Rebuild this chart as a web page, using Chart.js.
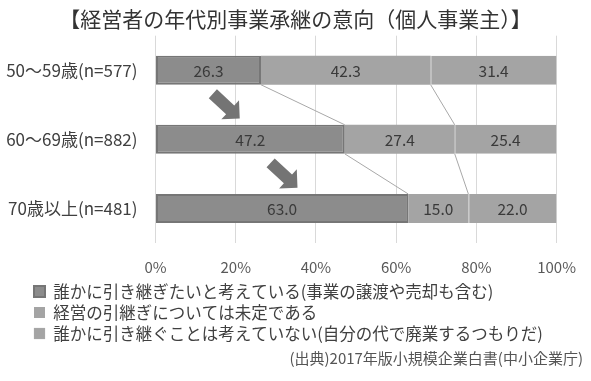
<!DOCTYPE html>
<html>
<head>
<meta charset="utf-8">
<script src="https://cdn.jsdelivr.net/npm/chart.js@4"></script>
<style>
html,body{margin:0;padding:0;background:#fff;}
#wrap{width:591px;height:381px;position:relative;}
</style>
</head>
<body>
<div id="wrap"><canvas id="c"></canvas></div>
<script>
const categories = ['50～59歳(n=577)', '60～69歳(n=882)', '70歳以上(n=481)'];
const seriesLabels = [
  '誰かに引き継ぎたいと考えている(事業の譲渡や売却も含む)',
  '経営の引継ぎについては未定である',
  '誰かに引き継ぐことは考えていない(自分の代で廃業するつもりだ)'
];
const successorValues = [26.3, 47.2, 63.0];
const undecidedValues = [42.3, 27.4, 15.0];
const closingValues = [31.4, 25.4, 22.0];
const xTickValues = [0, 20, 40, 60, 80, 100];
const titleText = '【経営者の年代別事業承継の意向（個人事業主）】';
const sourceText = '(出典)2017年版小規模企業白書(中小企業庁)';

const FONT = "'Noto Sans CJK JP', 'Noto Sans', sans-serif";

const overlay = {
  id: 'overlay',
  afterLayout(chart, args, opts) {
    if (chart.legend) {
      chart.legend.left = opts.legendLeft;
    }
    if (chart.titleBlock) {
      chart.titleBlock.left = 0;
      chart.titleBlock.right = chart.width;
    }
  },
  afterDatasetsDraw(chart, args, opts) {
    const ctx = chart.ctx;
    const xs = chart.scales.x, ys = chart.scales.y;
    ctx.save();
    // connector lines between segment boundaries
    ctx.strokeStyle = '#a8a8a8';
    ctx.lineWidth = 1;
    [0, 1].forEach(d => {
      const meta = chart.getDatasetMeta(d);
      for (let i = 0; i < meta.data.length - 1; i++) {
        const a = meta.data[i], b = meta.data[i + 1];
        ctx.beginPath();
        ctx.moveTo(a.x, a.y + a.height / 2);
        ctx.lineTo(b.x, b.y - b.height / 2);
        ctx.stroke();
      }
    });
    // value labels
    ctx.fillStyle = '#3a3a3a';
    ctx.font = '15.5px ' + FONT;
    ctx.textAlign = 'center';
    ctx.textBaseline = 'middle';
    chart.data.datasets.forEach((ds, d) => {
      chart.getDatasetMeta(d).data.forEach((el, i) => {
        const p = el.getCenterPoint();
        ctx.fillText(ds.data[i].toFixed(1), p.x, p.y + 1);
      });
    });
    // arrows
    ctx.fillStyle = opts.arrowColor;
    opts.arrows.forEach(a => {
      const x0 = xs.getPixelForValue(a.from[0]), y0 = ys.getPixelForValue(a.from[1]);
      const x1 = xs.getPixelForValue(a.to[0]), y1 = ys.getPixelForValue(a.to[1]);
      const dx = x1 - x0, dy = y1 - y0, len = Math.hypot(dx, dy);
      const ux = dx / len, uy = dy / len, px = -uy, py = ux;
      const hw = 6, hl = 13, hh = 13;
      const bx = x1 - ux * hl, by = y1 - uy * hl;
      ctx.beginPath();
      ctx.moveTo(x0 + px * hw, y0 + py * hw);
      ctx.lineTo(bx + px * hw, by + py * hw);
      ctx.lineTo(bx + px * hh, by + py * hh);
      ctx.lineTo(x1, y1);
      ctx.lineTo(bx - px * hh, by - py * hh);
      ctx.lineTo(bx - px * hw, by - py * hw);
      ctx.lineTo(x0 - px * hw, y0 - py * hw);
      ctx.closePath();
      ctx.fill();
    });
    ctx.restore();
  },
  afterDraw(chart, args, opts) {
    const ctx = chart.ctx;
    ctx.save();
    ctx.fillStyle = '#555';
    ctx.font = '15px ' + FONT;
    ctx.textAlign = 'right';
    ctx.textBaseline = 'middle';
    ctx.fillText(opts.source, opts.sourceX, opts.sourceY);
    ctx.restore();
  }
};

new Chart(document.getElementById('c'), {
  type: 'bar',
  data: {
    labels: categories,
    datasets: [
      { label: seriesLabels[0], data: successorValues, backgroundColor: '#8c8c8c', borderColor: '#767676', borderWidth: 2, borderSkipped: false },
      { label: seriesLabels[1], data: undecidedValues, backgroundColor: '#a4a4a4', borderColor: '#a4a4a4', borderWidth: 0 },
      { label: seriesLabels[2], data: closingValues, backgroundColor: '#a4a4a4', borderColor: '#b4b4b4', borderWidth: {left: 1, top: 0, right: 0, bottom: 0}, borderSkipped: false }
    ]
  },
  options: {
    indexAxis: 'y',
    responsive: true,
    maintainAspectRatio: false,
    animation: false,
    categoryPercentage: 1.0,
    barPercentage: 0.42,
    layout: { padding: { left: 0, right: 33, top: 0, bottom: 29.25 } },
    scales: {
      x: {
        stacked: true, min: 0, max: 100,
        afterBuildTicks: s => { s.ticks = xTickValues.map(v => ({ value: v })); },
        afterFit: s => { s.height = 35.75; },
        ticks: { callback: v => v + '%', font: { size: 15, family: FONT }, color: '#595959', padding: 15, maxRotation: 0 },
        grid: { color: '#d9d9d9', drawTicks: false },
        border: { display: false }
      },
      y: {
        stacked: true,
        afterFit: s => { s.width = 155.5; },
        ticks: { font: { size: 17, family: FONT }, color: '#404040', padding: 18 },
        grid: { display: false, drawTicks: false },
        border: { display: false }
      }
    },
    plugins: {
      title: { display: true, text: titleText, font: { size: 21, family: FONT, weight: 'normal' }, color: '#333', padding: { top: 6.5, bottom: 4 } },
      legend: {
        position: 'bottom', align: 'start',
        labels: { font: { size: 16.5, family: FONT }, color: '#404040', boxWidth: 11, boxHeight: 11, padding: 4.5 }
      },
      tooltip: { enabled: false },
      overlay: {
        legendLeft: 29.5,
        arrowColor: '#747474',
        arrows: [
          { from: [14.3, 0.34], to: [21.0, 0.70] },
          { from: [28.7, 1.34], to: [35.4, 1.70] }
        ],
        source: sourceText, sourceX: 583, sourceY: 358
      }
    }
  },
  plugins: [overlay]
});
</script>
</body>
</html>
